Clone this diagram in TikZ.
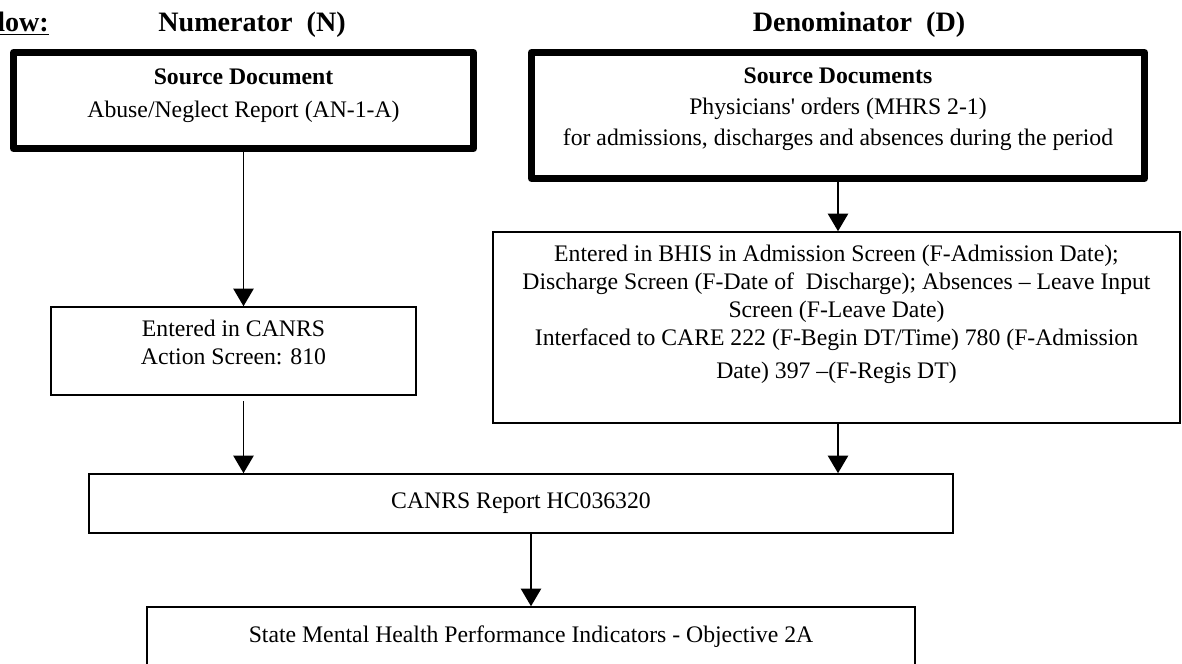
\documentclass[tikz,border=0pt]{standalone}
\usepackage{fontspec}
\setmainfont{Liberation Serif}
\usetikzlibrary{arrows.meta, calc}

% invisible strut that only adds depth below the last line
\newcommand{\lowstrut}[1]{\rule[-#1]{0pt}{#1}}

\begin{document}
\begin{tikzpicture}[
  x=0.02cm, y=-0.02cm,
  srcbox/.style={rectangle, draw=black, line width=4pt, line join=round,
    inner sep=2pt, align=center, font=\fontsize{13.5}{16}\selectfont},
  stepbox/.style={rectangle, draw=black, line width=0.9pt,
    inner sep=2pt, align=center, font=\fontsize{13.5}{16}\selectfont},
  head/.style={anchor=base, font=\fontsize{16}{19}\selectfont\bfseries},
  arr/.style={-{Triangle[length=10pt, width=11.5pt]}, line width=1pt},
]
\useasboundingbox (0,0) rectangle (1182,663);

% Headings
\node[head, anchor=base east] (flow) at (55,31) {\underline{Flow:}};
\node[head] (num) at (252,31) {Numerator\ \ (N)};
\node[head] (den) at (859,31) {Denominator\ \ (D)};

% Source documents
\node[srcbox, minimum width=9.2cm, minimum height=1.92cm] (srcN) at (243.5,100.5)
  {\textbf{Source Document}\\[2.8pt]
   Abuse/Neglect Report (AN-1-A)\lowstrut{8pt}};
\node[srcbox, minimum width=12.26cm, minimum height=2.52cm] (srcD) at (838,115.5)
  {\textbf{Source Documents}\\[1.5pt]
   Physicians\textquotesingle\ orders (MHRS 2-1)\\[1.5pt]
   for admissions, discharges and absences during the period\lowstrut{10pt}};

% Data entry
\node[stepbox, minimum width=7.3cm, minimum height=1.76cm] (entN) at (233.5,351)
  {Entered in CANRS\\
   Action Screen: 810\lowstrut{10pt}};
\node[stepbox, minimum width=13.74cm, minimum height=3.82cm] (entD) at (836.5,327.5)
  {Entered in BHIS in Admission Screen (F-Admission Date);\\
   Discharge Screen (F-Date of\ \ Discharge); Absences -- Leave Input\\
   Screen (F-Leave Date)\\
   Interfaced to CARE 222 (F-Begin DT/Time) 780 (F-Admission\\[2.8pt]
   Date) 397 --(F-Regis DT)\lowstrut{17.6pt}};

% Report and output
\node[stepbox, minimum width=17.28cm, minimum height=1.18cm] (report) at (521,503.5)
  {CANRS Report HC036320};
\node[stepbox, minimum width=15.36cm, minimum height=1.18cm] (smhpi) at (531,636.5)
  {State Mental Health Performance Indicators - Objective 2A};

% Arrows
\draw[arr] (srcN.south) -- (srcN.south |- entN.north);
\draw[arr] (srcD.south) -- (srcD.south |- entD.north);
\draw[arr, shorten <=3pt] (srcN.south |- entN.south) -- (srcN.south |- report.north);
\draw[arr] (srcD.south |- entD.south) -- (srcD.south |- report.north);
\draw[arr] (smhpi.north |- report.south) -- (smhpi.north);

\end{tikzpicture}
\end{document}
